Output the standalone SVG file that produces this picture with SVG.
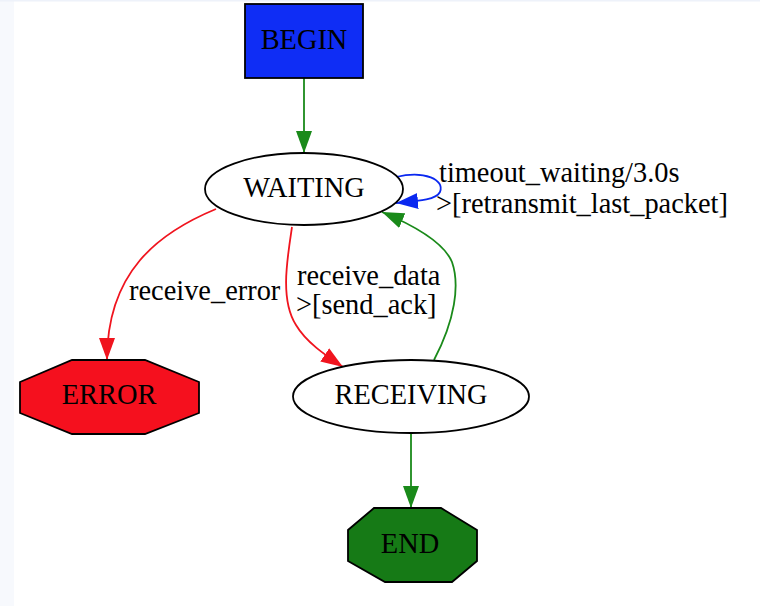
<svg xmlns="http://www.w3.org/2000/svg" width="760" height="606" viewBox="0 0 760 606">
<style>
.lbl{font-family:"Liberation Serif","Times New Roman",serif;font-size:28.4px;fill:#000}
.c{text-anchor:middle}
.shape{stroke:#000;stroke-width:1.8}
.edge{fill:none;stroke-width:1.8}
</style>
<defs>
<marker id="ag" markerUnits="userSpaceOnUse" markerWidth="22" markerHeight="16" refX="22" refY="8" orient="auto"><path d="M0,0 L22,8 L0,16 z" fill="#1a8a1a"/></marker>
<marker id="ar" markerUnits="userSpaceOnUse" markerWidth="22" markerHeight="16" refX="22" refY="8" orient="auto"><path d="M0,0 L22,8 L0,16 z" fill="#f0141e"/></marker>
<marker id="ab" markerUnits="userSpaceOnUse" markerWidth="22" markerHeight="16" refX="22" refY="8" orient="auto"><path d="M0,0 L22,8 L0,16 z" fill="#0a28f0"/></marker>
</defs>
<rect x="0" y="0" width="760" height="606" fill="#fff"/>
<rect x="0" y="0" width="14" height="606" fill="#f7f9fd"/>
<rect x="0" y="0" width="760" height="1.5" fill="#eef2fa"/>
<g id="connectors">
<path class="edge" stroke="#1a8a1a" d="M304,78 L304,153" marker-end="url(#ag)"/>
<path class="edge" stroke="#0a28f0" d="M396,177 C425,170 445,180 440,192 C436,200 418,201 396,203" marker-end="url(#ab)"/>
<path class="edge" stroke="#f0141e" d="M216,209 C158,233 107,272 107,360" marker-end="url(#ar)"/>
<path class="edge" stroke="#f0141e" d="M292,227 C287,260 280,300 296,325 C306,342 325,355 343,367" marker-end="url(#ar)"/>
<path class="edge" stroke="#1a8a1a" d="M434,360 C455,320 460,285 452,262 C445,245 420,228 382,212" marker-end="url(#ag)"/>
<path class="edge" stroke="#1a8a1a" d="M411,433 L411,508" marker-end="url(#ag)"/>
<text class="lbl" x="439" y="182">timeout_waiting/3.0s</text>
<text class="lbl" x="436" y="213">&gt;[retransmit_last_packet]</text>
<text class="lbl" x="129" y="300">receive_error</text>
<text class="lbl" x="297" y="285">receive_data</text>
<text class="lbl" x="296" y="314">&gt;[send_ack]</text>
</g>
<g id="BEGIN">
<rect class="shape" x="245" y="4" width="118" height="74" fill="#0f2df5"/>
<text class="lbl c" x="304" y="49">BEGIN</text>
</g>
<g id="WAITING">
<ellipse class="shape" cx="304" cy="189" rx="99" ry="36" fill="#fff"/>
<text class="lbl c" x="304" y="197">WAITING</text>
</g>
<g id="ERROR">
<polygon class="shape" points="72,360 145,360 199,382 199,413 145,434 72,434 20,413 20,382" fill="#f5101e"/>
<text class="lbl c" x="109" y="404">ERROR</text>
</g>
<g id="RECEIVING">
<ellipse class="shape" cx="411" cy="396.5" rx="118" ry="36.5" fill="#fff"/>
<text class="lbl c" x="411" y="404">RECEIVING</text>
</g>
<g id="END">
<polygon class="shape" points="374,508 441,508 477,530 477,561 452,582 385,582 348,561 348,530" fill="#167a16"/>
<text class="lbl c" x="410" y="553">END</text>
</g>
</svg>
